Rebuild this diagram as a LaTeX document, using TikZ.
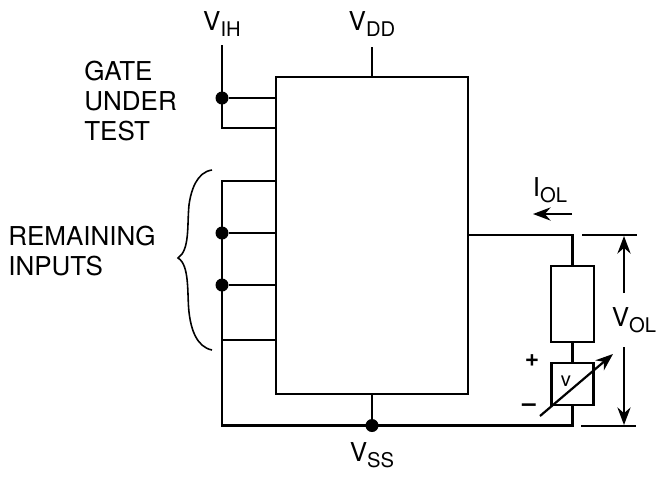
\documentclass[tikz,border=0pt]{standalone}
\usepackage{fontspec}
\setmainfont{TeX Gyre Heros}
\usetikzlibrary{arrows.meta}
\usetikzlibrary{calc}
\newcommand{\subtxt}[1]{\raisebox{-.45ex}{\fontsize{11.5}{11.5}\selectfont #1}}
\tikzset{
  wire/.style={line width=1.25pt},
  dimarrow/.style={line width=1.25pt,-{Stealth[length=10pt,width=7.5pt]}},
  block/.style={draw,line width=1.25pt,fill=white,inner sep=0pt},
  junction/.style={circle,fill=black,inner sep=0pt,minimum size=7.4pt},
  lbl/.style={inner sep=0pt,font=\fontsize{14.8}{17.3}\selectfont},
  txt/.style={lbl,align=left,anchor=west}
}
\begin{document}
\begin{tikzpicture}[x=0.02cm,y=-0.02cm]
\useasboundingbox (0,0) rectangle (656,501);
\node[block,minimum width=3.84cm,minimum height=6.34cm] (chip) at (372,235.5) {};
\node[block,minimum width=.86cm,minimum height=1.52cm] (load) at (572.5,304) {};
\node[block,minimum width=.84cm,minimum height=.84cm] (source) at (572.5,384) {};
\node[lbl] (vdd) at (372,24) {V\subtxt{DD}};
\node[lbl] (vih) at (222,24) {V\subtxt{IH}};
\node[lbl] (vss) at (372,455) {V\subtxt{SS}};
\node[lbl] (iol) at (550,190) {I\subtxt{OL}};
\node[lbl] (vol) at (634,320) {V\subtxt{OL}};
\node[txt] (gate) at (84,101) {GATE\\UNDER\\TEST};
\node[txt] (remaining) at (8,251) {REMAINING\\INPUTS};
\node[lbl,font=\fontsize{11.5}{11.5}\selectfont] (vlabel) at (566,381) {v};
\node[lbl,font=\bfseries\fontsize{14}{14}\selectfont] (plus) at (532,361) {+};
\node[lbl,font=\bfseries\fontsize{14}{14}\selectfont] (minus) at (529,408) {--};
\node[junction] (j1) at (222,98) {};
\node[junction] (j2) at (222,233) {};
\node[junction] (j3) at (222,285) {};
\node[junction] (j4) at (372,425.5) {};
\coordinate (vihtop) at (222,45);
\coordinate (in1) at (222,128);
\coordinate (in2) at (222,181);
\coordinate (in3) at (222,340);
\coordinate (rail) at (222,425.5);
\coordinate (out) at (572.5,235);
\coordinate (railend) at (572.5,425.5);
\coordinate (vddtop) at (372,47);
\coordinate (topa) at (582,235);
\coordinate (topb) at (637,235);
\coordinate (bota) at (581,426);
\coordinate (botb) at (636,426);
\draw[wire] (vihtop) -- (in1) -- (chip.west |- in1);
\draw[wire] (j1) -- (chip.west |- j1);
\draw[wire] (chip.west |- in2) -- (in2) -- (rail) -- (railend) -- (source.south);
\draw[wire] (j2) -- (chip.west |- j2);
\draw[wire] (j3) -- (chip.west |- j3);
\draw[wire] (in3) -- (chip.west |- in3);
\draw[wire] (vddtop) -- (chip.north);
\draw[wire] (chip.south) -- (j4);
\draw[wire] (chip.east |- out) -- (out) -- (load.north);
\draw[wire] (load.south) -- (source.north);
\draw[wire] (topa) -- (topb);
\draw[wire] (bota) -- (botb);
% measuring arrows
\draw[dimarrow] (624,293) -- (624,236);
\draw[dimarrow] (624,347) -- (624,425);
\draw[dimarrow] (572,214) -- (533,214);
\draw[dimarrow] (540,416) -- (613,354);
% brace
\draw[line width=.9pt] (212,170) .. controls (197,172) and (191,190) .. (189,205)
  .. controls (187,225) and (190,250) .. (178,258)
  .. controls (190,265) and (187,295) .. (189,312)
  .. controls (191,330) and (197,347) .. (212,350);
\end{tikzpicture}
\end{document}
